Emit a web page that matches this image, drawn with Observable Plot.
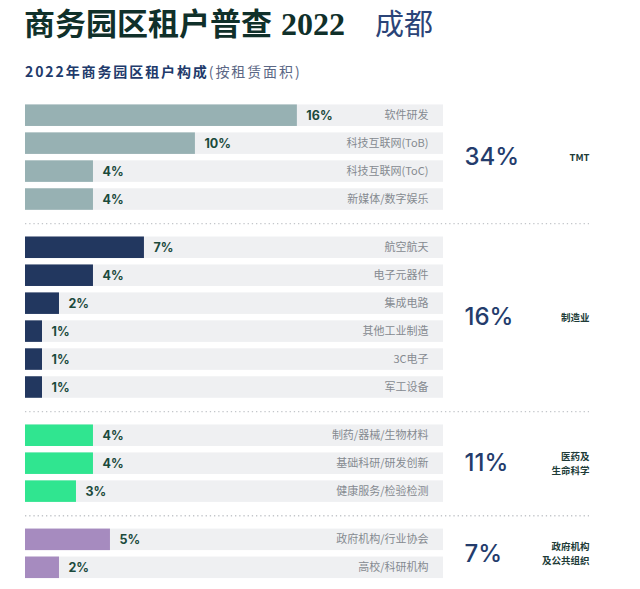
<!DOCTYPE html>
<html><head><meta charset="utf-8">
<script src="https://cdn.jsdelivr.net/npm/d3@7"></script>
<script src="https://cdn.jsdelivr.net/npm/@observablehq/plot@0.6"></script>
<style>
body{margin:0;background:#fff;width:640px;height:589px;overflow:hidden;position:relative;font-family:"Noto Sans CJK SC",sans-serif;}
#title{position:absolute;left:24px;top:6px;font-size:31px;line-height:32px;font-weight:700;color:#10302a;white-space:nowrap;}
#title .num{font-family:"Liberation Serif",serif;margin-left:9px;font-size:32px;}
#title .city{font-weight:400;color:#2b4478;font-size:29px;margin-left:30px;}
#subtitle{position:absolute;left:25px;top:62px;font-size:14px;line-height:18px;letter-spacing:1.9px;color:#213a6b;font-weight:700;white-space:nowrap;}
#subtitle span{font-weight:400;color:#5b6785;}
#chart{position:absolute;left:0;top:92px;}
#chart svg{overflow:visible;}
#chart g[aria-label="category label"] text{letter-spacing:0.4px;}
#chart g[aria-label="group total"] text{letter-spacing:-1.5px;}
#chart g[aria-label="value label"] text{letter-spacing:0.4px;}
#chart g[aria-label="group name"] text{letter-spacing:0.9px;}
</style></head><body>
<div id="title">商务园区租户普查<span class="num">2022</span><span class="city">成都</span></div>
<div id="subtitle">2022年商务园区租户构成<span>(按租赁面积)</span></div>
<div id="chart"></div>
<script>
// ---- data ----
const categories = ["软件研发","科技互联网(ToB)","科技互联网(ToC)","新媒体/数字娱乐",
  "航空航天","电子元器件","集成电路","其他工业制造","3C电子","军工设备",
  "制药/器械/生物材料","基础科研/研发创新","健康服务/检验检测",
  "政府机构/行业协会","高校/科研机构"];
const values = [16,10,4,4, 7,4,2,1,1,1, 4,4,3, 5,2];
const groupNames = [["TMT"],["制造业"],["医药及","生命科学"],["政府机构","及公共组织"]];
const groupSizes = [4,6,3,2];
const groupTotals = [34,16,11,7];
const groupColors = ["#97b1b3","#22375f","#30e590","#a68bbf"];

// ---- layout helpers ----
const trackMax = 24.6;     // extent of the light track, in % units
const groupGap = 0.725;    // extra space between groups, in row steps
const half = 0.385;        // half bar thickness, in row steps
const lineStep = 14;       // px between lines of a group name

const groupIndex = groupSizes.flatMap((n, g) => Array(n).fill(g));
const rows = categories.map((c, i) => ({
  category: c, value: values[i], group: groupIndex[i], pos: i + groupIndex[i] * groupGap
}));
const groups = groupNames.map((lines, g) => {
  const r = rows.filter(d => d.group === g);
  return {lines, total: groupTotals[g], pos: d3.mean(r, d => d.pos)};
});
const nameLines = groups.flatMap(gr => gr.lines.map((t, k) => ({
  text: t, pos: gr.pos, off: (k - (gr.lines.length - 1) / 2) * lineStep
})));
const separators = d3.range(groups.length - 1).map(g => {
  const a = rows.filter(d => d.group === g), b = rows.filter(d => d.group === g + 1);
  return (a[a.length - 1].pos + b[0].pos) / 2;
});
const maxPos = d3.max(rows, d => d.pos);

const chart = Plot.plot({
  width: 640, height: 497,
  marginLeft: 25, marginRight: 51, marginTop: 0, marginBottom: 0,
  style: {fontFamily: "'Noto Sans CJK SC', sans-serif", background: "transparent"},
  x: {domain: [0, trackMax], range: [25, 443], axis: null},
  y: {domain: [0, maxPos], range: [23.2, 475.3], axis: null},
  color: {domain: [0,1,2,3], range: groupColors},
  marks: [
    Plot.ruleY(separators, {stroke: "#c3c6ca", strokeWidth: 1.3, strokeDasharray: "1.3,2.9"}),
    Plot.rect(rows, {x1: 0, x2: () => trackMax, y1: d => d.pos - half, y2: d => d.pos + half, fill: "#eff0f2"}),
    Plot.rect(rows, {x1: 0, x2: "value", y1: d => d.pos - half, y2: d => d.pos + half, fill: "group"}),
    Plot.text(rows, {x: "value", y: "pos", text: d => d.value + "%", dx: 9, textAnchor: "start",
      fontWeight: 700, fontSize: 12.5, fill: "#1b4a3c", fontFamily: "Inter, 'Noto Sans CJK SC'",
      ariaLabel: "value label"}),
    Plot.text(rows, {x: () => trackMax, y: "pos", text: "category", dx: -15, textAnchor: "end",
      fontSize: 11, fill: "#858a90", ariaLabel: "category label"}),
    Plot.text(groups, {y: "pos", frameAnchor: "right", dx: -125, textAnchor: "start",
      text: d => d.total + "%", fontSize: 24, fontWeight: 500, fill: "#243c6c",
      fontFamily: "Inter, 'Noto Sans CJK SC'", ariaLabel: "group total"}),
    ...d3.groups(nameLines, d => d.off).map(([off, lines]) =>
      Plot.text(lines, {y: "pos", frameAnchor: "right", textAnchor: "end", text: "text", dy: off,
        fontSize: 9.5, fontWeight: 700, fill: "#203b37", ariaLabel: "group name"}))
  ]
});
document.getElementById("chart").appendChild(chart);
</script>
</body></html>
